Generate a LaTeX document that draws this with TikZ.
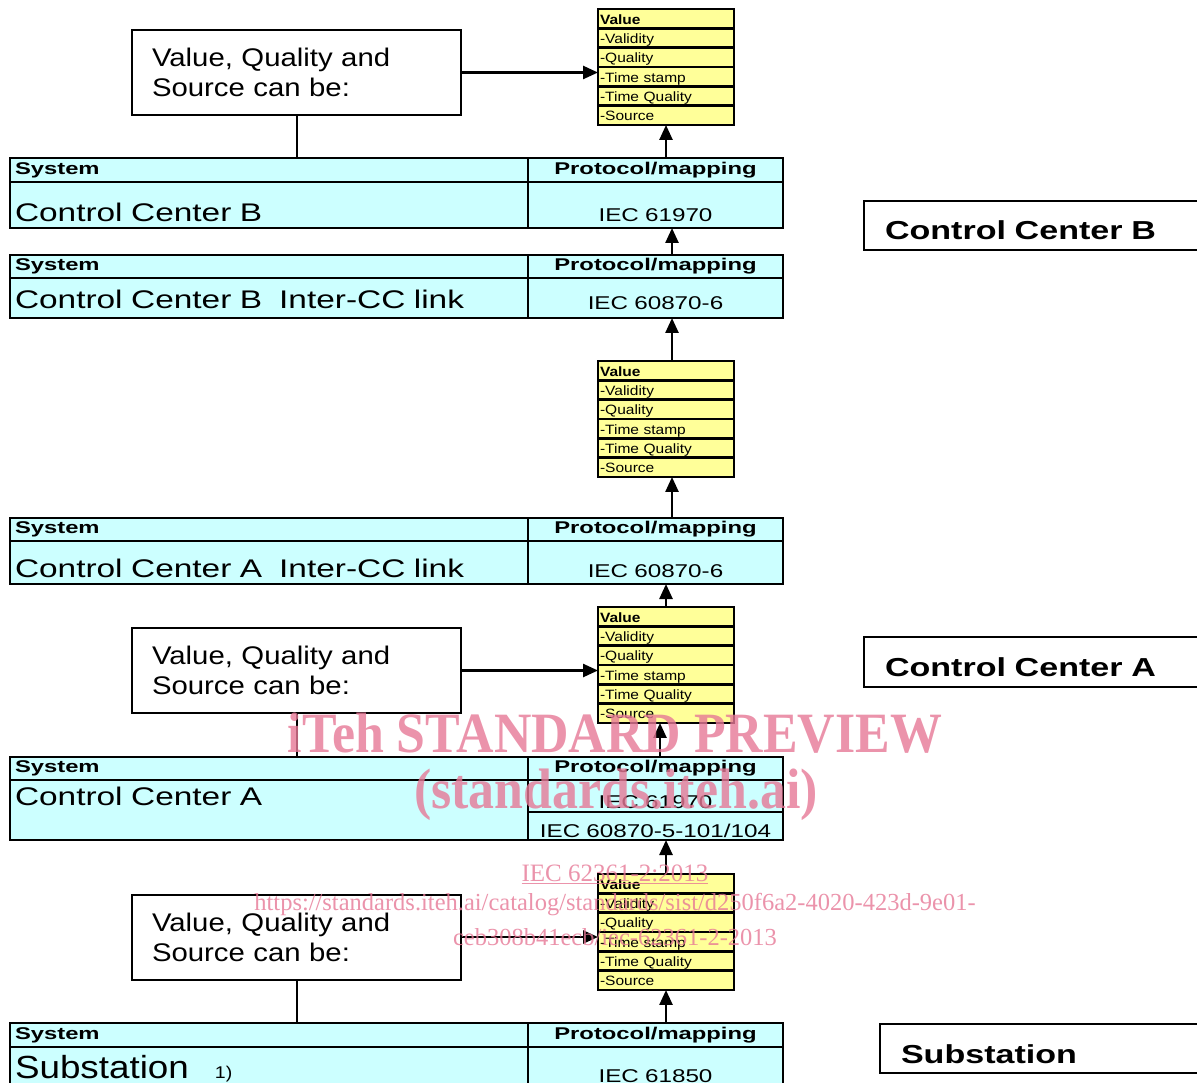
\documentclass[tikz,border=0pt]{standalone}
\usepackage{fontspec}
\setmainfont{Liberation Sans}
\newfontfamily\widesf[FakeStretch=1.31]{Liberation Sans}
\newfontfamily\headsf[FakeStretch=1.4]{Liberation Sans}
\newfontfamily\notesf[FakeStretch=1.15]{Liberation Sans}
\newfontfamily\wmserif[FakeStretch=0.91]{Liberation Serif}
\newfontfamily\wmplain{Liberation Serif}
\usetikzlibrary{arrows.meta, positioning, shapes.multipart, calc}
\definecolor{syscyan}{RGB}{204,255,255}
\definecolor{valyellow}{RGB}{255,255,153}
\definecolor{wmpink}{RGB}{230,120,150}
\newcommand{\vs}{\rule[-3pt]{0pt}{16.83pt}}

\begin{document}
\begin{tikzpicture}[
    x=1pt, y=-1pt,
    cellL/.style={draw, line width=2.5pt, fill=syscyan, anchor=north west, outer sep=0pt, inner xsep=5pt, inner ysep=0pt, text width=508pt, align=left},
    cellR/.style={draw, line width=2.5pt, fill=syscyan, anchor=north west, outer sep=0pt, inner xsep=3pt, inner ysep=0pt, text width=249pt, align=center},
    headtxt/.style={font=\headsf\bfseries\fontsize{17}{20}\selectfont},
    bodytxt/.style={font=\widesf\fontsize{25.5}{30}\selectfont},
    iectxt/.style={font=\widesf\fontsize{18.5}{22}\selectfont},
    notebox/.style={draw, line width=2pt, fill=white, minimum height=85pt, text width=289pt, inner xsep=20pt, align=left, font=\notesf\fontsize{25.5}{30}\selectfont},
    ccbox/.style={draw, line width=2.5pt, fill=white, anchor=north west, outer sep=0pt, text width=304pt, inner xsep=21pt, inner ysep=0pt, align=left, text height=29pt, text depth=0pt, font=\widesf\bfseries\fontsize{26}{30}\selectfont},
    valbox/.style={rectangle split, rectangle split parts=6, draw, line width=2.5pt, fill=valyellow, anchor=north, outer sep=0pt, text width=132pt, inner xsep=2pt, inner ysep=0pt, align=left, font=\notesf\fontsize{13.5}{15}\selectfont},
    arrow/.style={-{Triangle[length=15pt,width=13pt]}, line width=2.5pt},
    link/.style={line width=2pt}
]
\useasboundingbox (0,0) rectangle (1197,1083);
\clip (0,0) rectangle (1197,1083);

% Control Center B
\node[valbox] (v1) at (666,9) {\vs\textbf{Value}\nodepart{two}\vs-Validity\nodepart{three}\vs-Quality\nodepart{four}\vs-Time stamp\nodepart{five}\vs-Time Quality\nodepart{six}\vs-Source};
\node[notebox] (n1) at (296.5,72.5) {Value, Quality and\\Source can be:};
\node[cellL, headtxt, minimum height=24pt] (bhl) at (10,158) {System};
\node[cellR, headtxt, minimum height=24pt] (bhr) at (528,158) {Protocol/mapping};
\node[cellL, bodytxt, minimum height=46pt, text height=34pt, text depth=0pt] (bbl) at (10,182) {Control Center B};
\node[cellR, iectxt, minimum height=46pt, text height=34pt, text depth=0pt] (bbr) at (528,182) {IEC 61970};
\node[ccbox, minimum height=49pt] (lb) at (864,201) {Control Center B};

% Inter-CC link B
\node[cellL, headtxt, minimum height=23pt] (ihl) at (10,255) {System};
\node[cellR, headtxt, minimum height=23pt] (ihr) at (528,255) {Protocol/mapping};
\node[cellL, bodytxt, minimum height=40pt, text height=22pt, text depth=0pt] (ibl) at (10,278) {Control Center B\ \ Inter-CC link};
\node[cellR, iectxt, minimum height=40pt, text height=23pt, text depth=0pt] (ibr) at (528,278) {IEC 60870-6};

\node[valbox] (v2) at (666,361) {\vs\textbf{Value}\nodepart{two}\vs-Validity\nodepart{three}\vs-Quality\nodepart{four}\vs-Time stamp\nodepart{five}\vs-Time Quality\nodepart{six}\vs-Source};

% Inter-CC link A
\node[cellL, headtxt, minimum height=23pt] (jhl) at (10,518) {System};
\node[cellR, headtxt, minimum height=23pt] (jhr) at (528,518) {Protocol/mapping};
\node[cellL, bodytxt, minimum height=43pt, text height=29pt, text depth=0pt] (jbl) at (10,541) {Control Center A\ \ Inter-CC link};
\node[cellR, iectxt, minimum height=43pt, text height=29pt, text depth=0pt] (jbr) at (528,541) {IEC 60870-6};

% Control Center A
\node[valbox] (v3) at (666,607) {\vs\textbf{Value}\nodepart{two}\vs-Validity\nodepart{three}\vs-Quality\nodepart{four}\vs-Time stamp\nodepart{five}\vs-Time Quality\nodepart{six}\vs-Source};
\node[notebox] (n2) at (296.5,670.5) {Value, Quality and\\Source can be:};
\node[ccbox, minimum height=50pt] (la) at (864,637) {Control Center A};
\node[cellL, headtxt, minimum height=23pt] (ahl) at (10,757) {System};
\node[cellR, headtxt, minimum height=23pt] (ahr) at (528,757) {Protocol/mapping};
\node[cellL, bodytxt, minimum height=60pt, text height=18pt, text depth=28pt] (abl) at (10,780) {Control Center A};
\node[cellR, iectxt, minimum height=32pt, text height=24pt, text depth=0pt] (abr) at (528,780) {IEC 61970};
\node[cellR, iectxt, minimum height=28pt, text height=22pt, text depth=0pt] (abs) at (528,812) {IEC 60870-5-101/104};

% Substation
\node[valbox] (v4) at (666,874) {\vs\textbf{Value}\nodepart{two}\vs-Validity\nodepart{three}\vs-Quality\nodepart{four}\vs-Time stamp\nodepart{five}\vs-Time Quality\nodepart{six}\vs-Source};
\node[notebox] (n3) at (296.5,937) {Value, Quality and\\Source can be:};
\node[cellL, headtxt, minimum height=24pt] (shl) at (10,1023) {System};
\node[cellR, headtxt, minimum height=24pt] (shr) at (528,1023) {Protocol/mapping};
\node[cellL, font=\notesf\fontsize{32}{36}\selectfont, minimum height=53pt, text height=25pt, text depth=16pt] (sbl) at (10,1047) {Substation\hspace{26pt}{\fontsize{17}{20}\selectfont 1)}};
\node[cellR, iectxt, minimum height=53pt, text height=17pt, text depth=0pt] (sbr) at (528,1047) {IEC 61850};
\node[ccbox, minimum height=49pt] (ls) at (880,1024) {Substation};

% Arrows
\draw[arrow] (n1.east) -- (n1.east -| v1.west);
\draw[link] (n1.south) -- (n1.south |- bhl.north);
\draw[arrow] (v1.south |- bhr.north) -- (v1.south);
\draw[arrow] ($(v1.south |- ihr.north)+(6,0)$) -- ($(v1.south |- bbr.south)+(6,0)$);
\draw[arrow] ($(v2.north)+(6,0)$) -- ($(v2.north |- ibr.south)+(6,0)$);
\draw[arrow] ($(v2.south |- jhr.north)+(6,0)$) -- ($(v2.south)+(6,0)$);
\draw[arrow] (v3.north) -- (v3.north |- jbr.south);
\draw[arrow] (n2.east) -- (n2.east -| v3.west);
\draw[link] (n2.south) -- (n2.south |- ahl.north);
\draw[arrow] ($(v3.south |- ahr.north)+(-6,0)$) -- ($(v3.south)+(-6,0)$);
\draw[arrow] (v4.north) -- (v4.north |- abs.south);
\draw[arrow] (n3.east) -- (n3.east -| v4.west);
\draw[link] (n3.south) -- (n3.south |- shl.north);
\draw[arrow] (v4.south |- shr.north) -- (v4.south);

% Watermark
\begin{scope}[opacity=0.8, text=wmpink]
\node[font=\wmserif\bfseries\fontsize{57}{60}\selectfont] (wm1) at (615,733) {iTeh STANDARD PREVIEW};
\node[font=\wmserif\bfseries\fontsize{57}{60}\selectfont] (wm2) at (616,795) {(standards.iteh.ai)};
\node[font=\wmplain\fontsize{25}{28}\selectfont] (wm3) at (615,874) {\underline{IEC 62361-2:2013}};
\node[font=\wmplain\fontsize{24.5}{28}\selectfont] (wm4) at (615,905) {https://standards.iteh.ai/catalog/standards/sist/d250f6a2-4020-423d-9e01-};
\node[font=\wmplain\fontsize{24.5}{28}\selectfont] (wm5) at (615,937) {ceb308b41ecb/iec-62361-2-2013};
\end{scope}
\end{tikzpicture}
\end{document}
